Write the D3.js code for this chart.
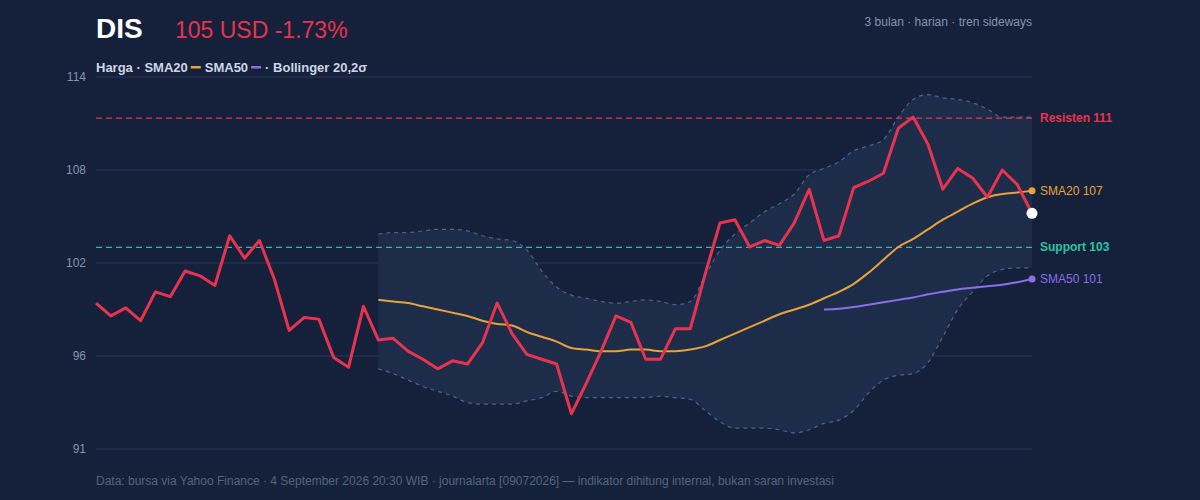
<!DOCTYPE html>
<html>
<head>
<meta charset="utf-8">
<script src="https://cdn.jsdelivr.net/npm/d3@7"></script>
<style>
  body { margin: 0; background: #15213a; }
  svg { display: block; font-family: "Liberation Sans", Arial, sans-serif; }
</style>
</head>
<body>
<div id="chart"></div>
<script>
// harga penutupan harian, 64 hari
const price = [
  99.7, 98.9, 99.4, 98.6, 100.4, 100.1, 101.7, 101.4, 100.8, 103.9,
  102.5, 103.6, 101.2, 98.0, 98.8, 98.7, 96.3, 95.7, 99.5, 97.4,
  97.5, 96.7, 96.2, 95.6, 96.1, 95.9, 97.2, 99.7, 97.8, 96.5,
  96.2, 95.9, 92.8, 94.7, 96.7, 98.9, 98.5, 96.2, 96.2, 98.1,
  98.1, 101.5, 104.7, 104.9, 103.2, 103.6, 103.3, 104.7, 106.8, 103.6,
  103.9, 106.9, 107.3, 107.8, 110.6, 111.3, 109.6, 106.8, 108.1, 107.5,
  106.3, 108.0, 107.1, 105.3
];
const sma20Start = 19;
const sma20 = [
  99.9, 99.8, 99.7, 99.5, 99.3, 99.1, 98.9, 98.6, 98.4, 98.3,
  97.9, 97.6, 97.3, 96.9, 96.8, 96.7, 96.7, 96.8, 96.8, 96.7,
  96.7, 96.8, 97.0, 97.4, 97.8, 98.2, 98.6, 99.0, 99.3, 99.6,
  100.0, 100.4, 100.9, 101.6, 102.4, 103.2, 103.7, 104.3, 104.9, 105.4,
  105.9, 106.3, 106.5, 106.6, 106.7
];
const sma50Start = 49;
const sma50 = [99.3, 99.35, 99.45, 99.6, 99.75, 99.9, 100.05, 100.25, 100.4, 100.55, 100.65, 100.75, 100.85, 101.0, 101.2];
const bbUpper = [
  104.0, 104.1, 104.1, 104.2, 104.3, 104.3, 104.2, 103.9, 103.7, 103.6,
  103.0, 101.7, 100.7, 100.2, 100.0, 99.8, 99.7, 99.8, 99.9, 99.8,
  99.6, 99.8, 101.4, 103.0, 104.0, 104.7, 105.4, 105.9, 106.5, 107.7,
  108.1, 108.5, 109.2, 109.5, 109.9, 111.3, 112.4, 112.7, 112.5, 112.4,
  112.2, 111.8, 111.3, 111.3, 111.3
];
const bbLower = [
  95.6, 95.3, 94.9, 94.5, 94.2, 93.9, 93.5, 93.4, 93.4, 93.4,
  93.6, 93.8, 94.2, 93.9, 93.8, 93.8, 93.8, 93.8, 93.8, 93.9,
  93.8, 93.7, 93.0, 92.3, 91.9, 91.9, 91.9, 91.8, 91.6, 91.8,
  92.2, 92.4, 93.0, 94.1, 94.9, 95.2, 95.3, 96.0, 97.6, 99.3,
  100.4, 101.4, 101.8, 101.9, 101.9
];
const yTicks = [90.6, 96.4, 102.2, 108.0, 113.8];
const resistance = 111.24;
const support = 103.18;

const width = 1200, height = 500;
const margin = { top: 77, right: 168, bottom: 51, left: 96 };

const svg = d3.select("#chart").append("svg")
  .attr("width", width).attr("height", height);
svg.append("rect").attr("width", width).attr("height", height).attr("fill", "#15213a");

const x = d3.scaleLinear().domain([0, price.length - 1]).range([margin.left, width - margin.right]);
const y = d3.scaleLinear().domain([90.6, 113.8]).range([height - margin.bottom, margin.top]);

// grid + y labels
svg.append("g").selectAll("line").data(yTicks).join("line")
  .attr("x1", margin.left).attr("x2", width - margin.right)
  .attr("y1", d => y(d)).attr("y2", d => y(d))
  .attr("stroke", "#23314f").attr("stroke-width", 1.5);
svg.append("g").selectAll("text").data(yTicks).join("text")
  .attr("x", margin.left - 10).attr("y", d => y(d) + 4)
  .attr("text-anchor", "end").attr("fill", "#8593ad").attr("font-size", 12)
  .text(d => d3.format(".0f")(d));

// bollinger band
const bbIdx = d3.range(bbUpper.length).map(i => i + sma20Start);
svg.append("path")
  .datum(bbIdx)
  .attr("fill", "#1d2c49")
  .attr("d", d3.area().x(i => x(i)).y0(i => y(bbLower[i - sma20Start])).y1(i => y(bbUpper[i - sma20Start])).curve(d3.curveMonotoneX));
[bbUpper, bbLower].forEach(arr => {
  svg.append("path").datum(arr)
    .attr("fill", "none").attr("stroke", "#4a6390").attr("stroke-width", 1.2)
    .attr("stroke-dasharray", "4,4")
    .attr("d", d3.line().x((d, i) => x(i + sma20Start)).y(d => y(d)).curve(d3.curveMonotoneX));
});

// support / resistance
svg.append("line").attr("x1", margin.left).attr("x2", width - margin.right)
  .attr("y1", y(resistance)).attr("y2", y(resistance))
  .attr("stroke", "#e8334f").attr("stroke-width", 1.3).attr("stroke-dasharray", "6,4");
svg.append("line").attr("x1", margin.left).attr("x2", width - margin.right)
  .attr("y1", y(support)).attr("y2", y(support))
  .attr("stroke", "#3fb3a8").attr("stroke-width", 1.3).attr("stroke-dasharray", "6,4");

// moving averages
svg.append("path").datum(sma20)
  .attr("fill", "none").attr("stroke", "#e8a23a").attr("stroke-width", 2)
  .attr("d", d3.line().x((d, i) => x(i + sma20Start)).y(d => y(d)).curve(d3.curveMonotoneX));
svg.append("path").datum(sma50)
  .attr("fill", "none").attr("stroke", "#8b6ee8").attr("stroke-width", 2)
  .attr("d", d3.line().x((d, i) => x(i + sma50Start)).y(d => y(d)).curve(d3.curveMonotoneX));

// price
svg.append("path").datum(price)
  .attr("fill", "none").attr("stroke", "#e8334f").attr("stroke-width", 3)
  .attr("stroke-linejoin", "round")
  .attr("d", d3.line().x((d, i) => x(i)).y(d => y(d)));

// end markers
const last = price.length - 1;
svg.append("circle").attr("cx", x(last)).attr("cy", y(sma20[sma20.length - 1])).attr("r", 3.5).attr("fill", "#e8a23a");
svg.append("circle").attr("cx", x(last)).attr("cy", y(sma50[sma50.length - 1])).attr("r", 3.5).attr("fill", "#8b6ee8");
svg.append("circle").attr("cx", x(last)).attr("cy", y(price[last])).attr("r", 5.5).attr("fill", "#ffffff");

// right labels
const lx = width - margin.right + 8;
const rLabel = (v, txt, col, bold) => svg.append("text")
  .attr("x", lx).attr("y", y(v) + 4).attr("fill", col).attr("font-size", 12)
  .attr("font-weight", bold ? "bold" : "normal").text(txt);
rLabel(resistance, "Resisten 111", "#e8334f", true);
rLabel(support, "Support 103", "#2ec4a0", true);
rLabel(sma20[sma20.length - 1], "SMA20 107", "#e8a23a", false);
rLabel(sma50[sma50.length - 1], "SMA50 101", "#8b6ee8", false);

// header
svg.append("text").attr("x", 96).attr("y", 38).attr("fill", "#ffffff")
  .attr("font-size", 28).attr("font-weight", "bold").text("DIS");
svg.append("text").attr("x", 175).attr("y", 38).attr("fill", "#e8334f")
  .attr("font-size", 23).text("105 USD -1.73%");
svg.append("text").attr("x", 1032).attr("y", 26).attr("text-anchor", "end")
  .attr("fill", "#8593ad").attr("font-size", 12).text("3 bulan · harian · tren sideways");

// legend
const leg = svg.append("g").attr("font-size", 13).attr("font-weight", "bold").attr("fill", "#cdd6e6");
let lxp = 96;
const legText = t => {
  const el = leg.append("text").attr("x", lxp).attr("y", 72).text(t);
  lxp += el.node().getComputedTextLength();
};
const legSwatch = c => {
  leg.append("rect").attr("x", lxp + 3).attr("y", 66).attr("width", 10).attr("height", 2.5).attr("fill", c);
  lxp += 17;
};
legText("Harga · SMA20");
legSwatch("#e8a23a");
legText("SMA50");
legSwatch("#8b6ee8");
legText("· Bollinger 20,2σ");

// footer
svg.append("text").attr("x", 96).attr("y", 485).attr("fill", "#56637d").attr("font-size", 12)
  .text("Data: bursa via Yahoo Finance · 4 September 2026 20:30 WIB · journalarta [09072026] — indikator dihitung internal, bukan saran investasi");
</script>
</body>
</html>
